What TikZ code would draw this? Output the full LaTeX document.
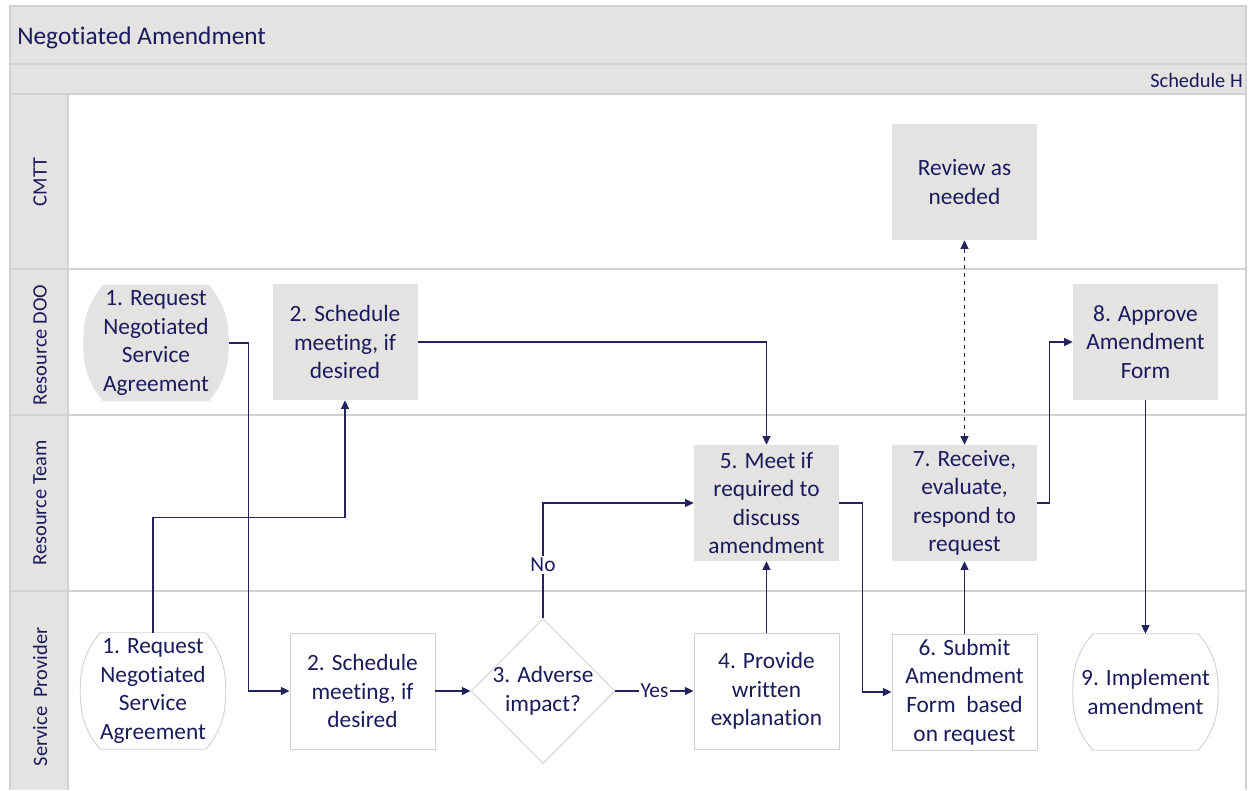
\documentclass[tikz,border=0pt]{standalone}
\usepackage{fontspec}
\setmainfont{Carlito}[Ligatures=NoCommon]
\usetikzlibrary{arrows.meta,calc,shapes.geometric}
\definecolor{ink}{HTML}{1B1A5C}
\definecolor{wire}{HTML}{24235E}
\definecolor{panel}{HTML}{E4E3E2}
\definecolor{rule}{HTML}{D3D2D2}
\pgfdeclarelayer{lanes}
\pgfdeclarelayer{shapes}
\pgfsetlayers{lanes,shapes,main}
\tikzset{
  txt/.style={text=ink, font=\fontsize{17.5}{21.4}\selectfont, align=center, inner sep=0pt},
  task/.style={txt, minimum width=108.75pt, minimum height=87pt},
  greytask/.style={task, fill=panel},
  whitetask/.style={task, fill=white, draw=rule, line width=0.7pt},
  endpoint/.style={txt, minimum width=108.75pt, minimum height=87pt},
  greyend/.style={fill=panel},
  whiteend/.style={fill=white, draw=rule, line width=0.7pt},
  decision/.style={diamond, aspect=1, inner sep=0pt, minimum width=108pt, minimum height=108.75pt, fill=white, draw=rule, line width=0.7pt},
  flow/.style={draw=wire, line width=0.9pt, -{Triangle[length=6.5pt,width=6pt]}},
  both/.style={draw=wire, line width=0.9pt, dashed, {Triangle[length=6.5pt,width=6pt]}-{Triangle[length=6.5pt,width=6pt]}},
  tag/.style={text=ink, font=\fontsize{16}{18}\selectfont, fill=white, inner sep=1.5pt},
  lanetitle/.style={text=ink, font=\fontsize{15.3}{18}\selectfont, rotate=90},
  lane/.style={draw=rule, line width=1.1pt},
}
% outline of a terminal: flat top and bottom, bulging sides
\newcommand\capsule[2]{%
  \begin{pgfonlayer}{shapes}
  \path[#2] ([xshift=15pt]#1.north west) -- ([xshift=-15pt]#1.north east)
    to[out=-50,in=90] (#1.east) to[out=-90,in=50] ([xshift=-15pt]#1.south east)
    -- ([xshift=15pt]#1.south west)
    to[out=130,in=-90] (#1.west) to[out=90,in=-130] cycle;
  \end{pgfonlayer}}

\begin{document}
\begin{tikzpicture}[x=0.75pt, y=-0.75pt]
\useasboundingbox (0,0) rectangle (1254,790);

% swimlane frame
\begin{pgfonlayer}{lanes}
  \fill[panel] (10,6) rectangle (1246,94);
  \fill[panel] (10,94) rectangle (68,790);
  \draw[lane] (10,790) -- (10,6) -- (1246,6) -- (1246,790);
  \draw[lane] (10,64) -- (1246,64);
  \draw[lane] (10,94) -- (1246,94);
  \draw[lane] (10,269) -- (1246,269);
  \draw[lane] (10,415) -- (1246,415);
  \draw[lane] (10,591) -- (1246,591);
  \draw[lane] (68,94) -- (68,790);
\end{pgfonlayer}

\node[anchor=west, text=ink, font=\fontsize{19}{22}\selectfont, inner sep=0pt] (title) at (17,37.5) {Negotiated Amendment};
\node[anchor=east, text=ink, font=\fontsize{15.3}{18}\selectfont, inner sep=0pt] (sched) at (1243,80) {Schedule H};

\node[lanetitle] (lcmtt) at (40,182) {CMTT};
\node[lanetitle] (ldoo) at (40,345) {Resource DOO};
\node[lanetitle] (lteam) at (40,503) {Resource Team};
\node[lanetitle] (lsp) at (40,697) {Service\ \ Provider};

% CMTT
\node[greytask] (rv) at (964.5,182) {Review as\\needed};

% Resource DOO
\node[endpoint] (t1doo) at (156,343) {1. Request\\Negotiated\\Service\\Agreement};
\capsule{t1doo}{greyend}
\node[greytask] (s2doo) at (345,342) {2. Schedule\\meeting, if\\desired};
\node[greytask] (a8) at (1145.5,342) {8. Approve\\Amendment\\Form};

% Resource Team
\node[greytask] (m5) at (766.5,503) {5. Meet if\\required to\\discuss\\amendment};
\node[greytask] (r7) at (964.5,503) {7. Receive,\\evaluate,\\respond to\\request};

% Service Provider
\node[endpoint] (t1sp) at (153,691) {1. Request\\Negotiated\\Service\\Agreement};
\capsule{t1sp}{whiteend}
\node[whitetask] (s2sp) at (362.5,691) {2. Schedule\\meeting, if\\desired};
\node[decision, label={[txt]center:3. Adverse\\impact?}] (d3) at (543,691) {};
\node[whitetask] (p4) at (766.5,691) {4. Provide\\written\\explanation};
\node[whitetask] (f6) at (964.5,692) {6. Submit\\Amendment\\Form\ \ based\\on request};
\node[endpoint] (i9) at (1145.5,692) {9. Implement\\amendment};
\capsule{i9}{whiteend}

% connectors
\draw[flow] (t1doo.east) -- ++(20,0) |- (s2sp.west);
\draw[flow] (t1sp.north) -- ++(0,-115) -| (s2doo.south);
\draw[flow] (s2doo.east) -| (m5.north);
\draw[flow] (s2sp.east) -- (d3.west);
\draw[flow] (d3.north) |- node[tag, pos=0.23] {No} (m5.west);
\draw[flow] (d3.east) -- node[tag] {Yes} (p4.west);
\draw[flow] (p4.north) -- (m5.south);
\draw[flow] (m5.east) -- ++(23,0) |- (f6.west);
\draw[flow] (f6.north) -- (r7.south);
\draw[both] (rv.south) -- (r7.north);
\draw[flow] (r7.east) -- ++(12,0) |- (a8.west);
\draw[flow] (a8.south) -- (i9.north);
\end{tikzpicture}
\end{document}
